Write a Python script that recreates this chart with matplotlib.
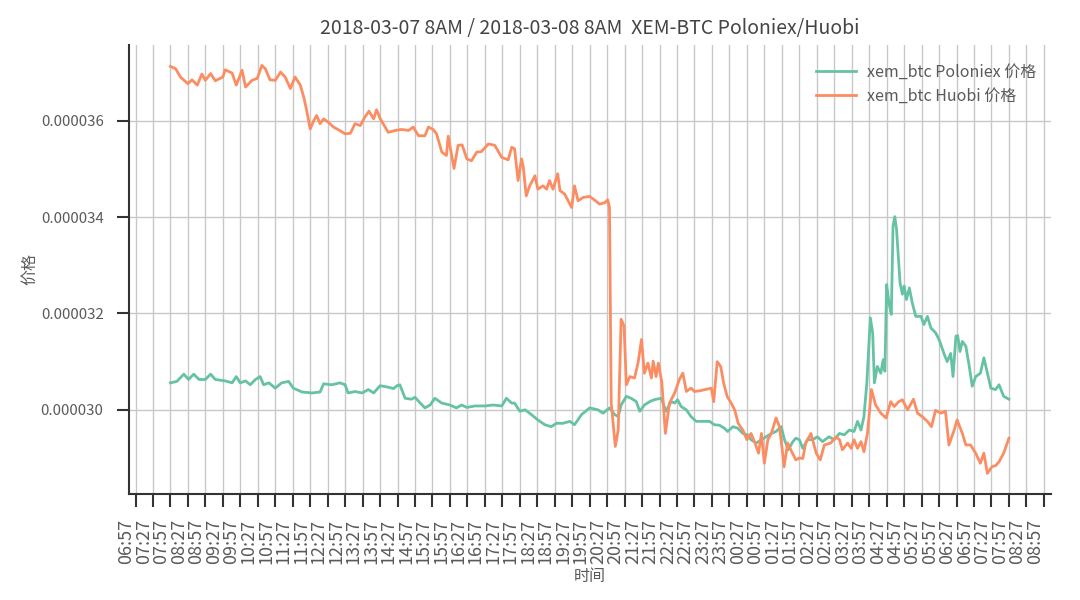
# xem_btc price, Poloniex vs Huobi, 2018-03-07 8AM -> 2018-03-08 8AM

import numpy as np
import pandas as pd
import matplotlib
matplotlib.use("Agg")
import matplotlib.pyplot as plt
import matplotlib.dates as mdates

start = pd.Timestamp("2018-03-07 07:57")

# minutes after start, prices in units of 1e-6 BTC
t_polo = [0, 11, 23, 31, 40, 49, 60, 69, 77, 94, 106, 113, 120, 129, 137, 146, 154, 160, 169, 180,
          191, 203, 211, 226, 243, 257, 263, 277, 291, 300, 305, 317, 329, 340, 349, 360, 374, 383, 389, 394,
          403, 414, 420, 429, 437, 446, 454, 466, 480, 491, 500, 509, 523, 540, 554, 569, 577, 586, 591, 600,
          609, 620, 631, 643, 654, 663, 674, 686, 694, 706, 720, 734, 743, 754, 763, 769, 774, 783, 791, 800,
          806, 814, 823, 831, 843, 851, 860, 866, 871, 877, 886, 894, 903, 914, 926, 934, 943, 951, 957, 966,
          974, 983, 991, 997, 1006, 1015, 1023, 1032, 1040, 1049, 1054, 1061, 1069, 1074, 1080, 1086, 1094, 1103, 1111, 1120,
          1131, 1140, 1149, 1157, 1166, 1174, 1180, 1186, 1191, 1196, 1202, 1206, 1209, 1214, 1220, 1224, 1227, 1230, 1234, 1238,
          1241, 1244, 1247, 1253, 1257, 1260, 1264, 1269, 1274, 1280, 1289, 1294, 1300, 1306, 1314, 1320, 1329, 1334, 1340, 1344,
          1349, 1352, 1356, 1360, 1366, 1371, 1377, 1383, 1391, 1397, 1403, 1409, 1417, 1423, 1431, 1440]
p_polo = [30.56, 30.59, 30.74, 30.63, 30.74, 30.63, 30.63, 30.74, 30.63, 30.60, 30.56, 30.69, 30.56, 30.60, 30.52, 30.63, 30.69, 30.52, 30.56, 30.45,
          30.56, 30.59, 30.45, 30.37, 30.35, 30.37, 30.54, 30.52, 30.56, 30.52, 30.35, 30.38, 30.35, 30.42, 30.35, 30.50, 30.47, 30.44, 30.50, 30.52,
          30.24, 30.22, 30.26, 30.14, 30.04, 30.10, 30.24, 30.14, 30.10, 30.04, 30.10, 30.05, 30.08, 30.08, 30.10, 30.08, 30.24, 30.14, 30.14, 29.97,
          30.00, 29.90, 29.79, 29.69, 29.65, 29.72, 29.72, 29.76, 29.69, 29.90, 30.04, 30.00, 29.93, 30.04, 29.90, 29.86, 30.10, 30.28, 30.24, 30.17,
          29.97, 30.10, 30.17, 30.21, 30.24, 29.97, 30.17, 30.14, 30.21, 30.07, 30.00, 29.86, 29.76, 29.76, 29.76, 29.69, 29.68, 29.62, 29.55, 29.65,
          29.62, 29.51, 29.48, 29.38, 29.31, 29.38, 29.44, 29.51, 29.55, 29.65, 29.40, 29.17, 29.34, 29.41, 29.38, 29.20, 29.38, 29.38, 29.44, 29.34,
          29.44, 29.38, 29.51, 29.48, 29.58, 29.55, 29.76, 29.58, 29.86, 30.56, 31.91, 31.60, 30.56, 30.90, 30.76, 31.04, 30.80, 32.60, 32.22, 31.98,
          33.82, 34.01, 33.75, 32.64, 32.40, 32.57, 32.29, 32.53, 32.22, 31.94, 31.94, 31.77, 31.94, 31.70, 31.60, 31.46, 31.15, 31.00, 31.17, 30.69,
          31.53, 31.54, 31.21, 31.42, 31.32, 30.97, 30.49, 30.69, 30.76, 31.08, 30.76, 30.45, 30.42, 30.52, 30.28, 30.22]

t_huobi = [0, 9, 17, 30, 37, 46, 54, 60, 69, 77, 90, 94, 106, 113, 123, 129, 140, 149, 157, 163,
           171, 180, 189, 197, 206, 214, 223, 229, 234, 240, 246, 251, 257, 263, 271, 280, 289, 300, 309, 317,
           326, 334, 341, 349, 354, 360, 374, 386, 397, 409, 417, 426, 437, 443, 451, 457, 466, 474, 477, 487,
           494, 501, 509, 517, 526, 534, 546, 557, 569, 580, 586, 591, 597, 603, 606, 611, 617, 626, 631, 640,
           646, 651, 657, 665, 669, 677, 689, 694, 700, 709, 720, 729, 737, 746, 751, 754, 757, 764, 769, 774,
           779, 783, 789, 797, 803, 809, 814, 820, 826, 829, 834, 838, 844, 850, 857, 866, 874, 880, 886, 894,
           900, 911, 929, 933, 939, 945, 950, 956, 963, 969, 975, 983, 990, 997, 1004, 1010, 1015, 1020, 1026, 1032,
           1040, 1046, 1054, 1060, 1067, 1074, 1080, 1086, 1091, 1100, 1109, 1116, 1123, 1134, 1143, 1149, 1154, 1163, 1169, 1174,
           1180, 1186, 1191, 1197, 1204, 1211, 1220, 1229, 1237, 1243, 1251, 1257, 1266, 1276, 1283, 1291, 1300, 1307, 1314, 1323,
           1331, 1337, 1346, 1351, 1360, 1366, 1374, 1383, 1391, 1397, 1403, 1411, 1417, 1423, 1431, 1440]
p_huobi = [37.13, 37.08, 36.91, 36.77, 36.85, 36.74, 36.97, 36.84, 36.98, 36.83, 36.91, 37.06, 36.99, 36.74, 37.05, 36.70, 36.84, 36.88, 37.15, 37.08,
           36.85, 36.84, 37.01, 36.91, 36.67, 36.91, 36.74, 36.49, 36.21, 35.83, 36.00, 36.11, 35.94, 36.04, 35.97, 35.87, 35.81, 35.73, 35.74, 35.94,
           35.90, 36.08, 36.20, 36.04, 36.23, 36.05, 35.76, 35.80, 35.82, 35.80, 35.87, 35.69, 35.69, 35.87, 35.82, 35.73, 35.35, 35.28, 35.68, 35.01,
           35.49, 35.50, 35.21, 35.17, 35.35, 35.36, 35.52, 35.49, 35.24, 35.19, 35.45, 35.42, 34.76, 35.21, 35.04, 34.44, 34.65, 34.86, 34.58, 34.65,
           34.58, 34.76, 34.58, 34.90, 34.55, 34.48, 34.20, 34.65, 34.34, 34.41, 34.43, 34.35, 34.27, 34.30, 34.36, 34.20, 30.14, 29.24, 29.58, 31.88,
           31.74, 30.52, 30.69, 30.66, 30.97, 31.46, 30.76, 30.97, 30.66, 31.01, 30.69, 30.97, 30.56, 29.51, 30.14, 30.35, 30.63, 30.76, 30.38, 30.45,
           30.38, 30.40, 30.45, 30.17, 31.00, 30.90, 30.56, 30.28, 30.14, 30.00, 29.72, 29.58, 29.38, 29.51, 29.31, 29.10, 29.51, 28.89, 29.38, 29.51,
           29.83, 29.65, 28.82, 29.31, 29.13, 28.96, 29.00, 28.99, 29.31, 29.51, 29.10, 28.96, 29.27, 29.31, 29.44, 29.38, 29.17, 29.31, 29.20, 29.38,
           29.20, 29.34, 29.13, 29.51, 30.42, 30.10, 29.93, 29.83, 30.17, 30.07, 30.17, 30.21, 30.00, 30.22, 29.93, 29.86, 29.76, 29.65, 29.99, 29.93,
           29.97, 29.27, 29.58, 29.79, 29.51, 29.27, 29.27, 29.10, 28.89, 29.10, 28.68, 28.82, 28.84, 28.92, 29.10, 29.41]

plt.rcParams['font.family'] = ['Noto Sans CJK SC', 'DejaVu Sans']
plt.rcParams['axes.unicode_minus'] = False
txt = "#5a5a5a"

x_polo = start + pd.to_timedelta(t_polo, unit="min")
x_huobi = start + pd.to_timedelta(t_huobi, unit="min")

fig = plt.figure(figsize=(10.8, 6), dpi=100)
ax = fig.add_axes([0.119, 0.177, 0.854, 0.748])

ax.plot(x_polo, np.array(p_polo) * 1e-6, color="#66c2a5", lw=2, label="xem_btc Poloniex 价格")
ax.plot(x_huobi, np.array(p_huobi) * 1e-6, color="#fc8d62", lw=2, label="xem_btc Huobi 价格")

ticks = pd.date_range("2018-03-07 06:57", "2018-03-08 08:57", freq="30min")
ax.set_xticks(ticks)
ax.xaxis.set_major_formatter(mdates.DateFormatter("%H:%M"))
ax.set_yticks([0.000030, 0.000032, 0.000034, 0.000036])
ax.yaxis.set_major_formatter(matplotlib.ticker.FormatStrFormatter("%.6f"))

for lab in ax.get_xticklabels():
    lab.set_rotation(90)
    lab.set_ha("right")
ax.tick_params(axis="x", labelsize=13, colors=txt, length=9, width=1.5, pad=9)
ax.tick_params(axis="y", labelsize=10.8, colors=txt, length=9, width=1.5, pad=9)
ax.tick_params(axis="both", color="#333333")

ax.grid(True, color="#c8c8c8", lw=1)
ax.set_axisbelow(True)
for s in ["top", "right"]:
    ax.spines[s].set_visible(False)
for s in ["left", "bottom"]:
    ax.spines[s].set_color("#333333")
    ax.spines[s].set_linewidth(1.5)

ax.set_title("2018-03-07 8AM / 2018-03-08 8AM  XEM-BTC Poloniex/Huobi", fontsize=14, color="#444444", pad=8)
ax.set_xlabel("时间", fontsize=11.5, color=txt, labelpad=3)
ax.set_ylabel("价格", fontsize=11.5, color=txt, labelpad=2)

leg = ax.legend(loc="upper right", frameon=False, fontsize=11.5, handlelength=2.5,
                handletextpad=0.7, labelspacing=0.45, bbox_to_anchor=(1.0, 0.99))
for t in leg.get_texts():
    t.set_color(txt)

fig.savefig("out.png", dpi=100)
